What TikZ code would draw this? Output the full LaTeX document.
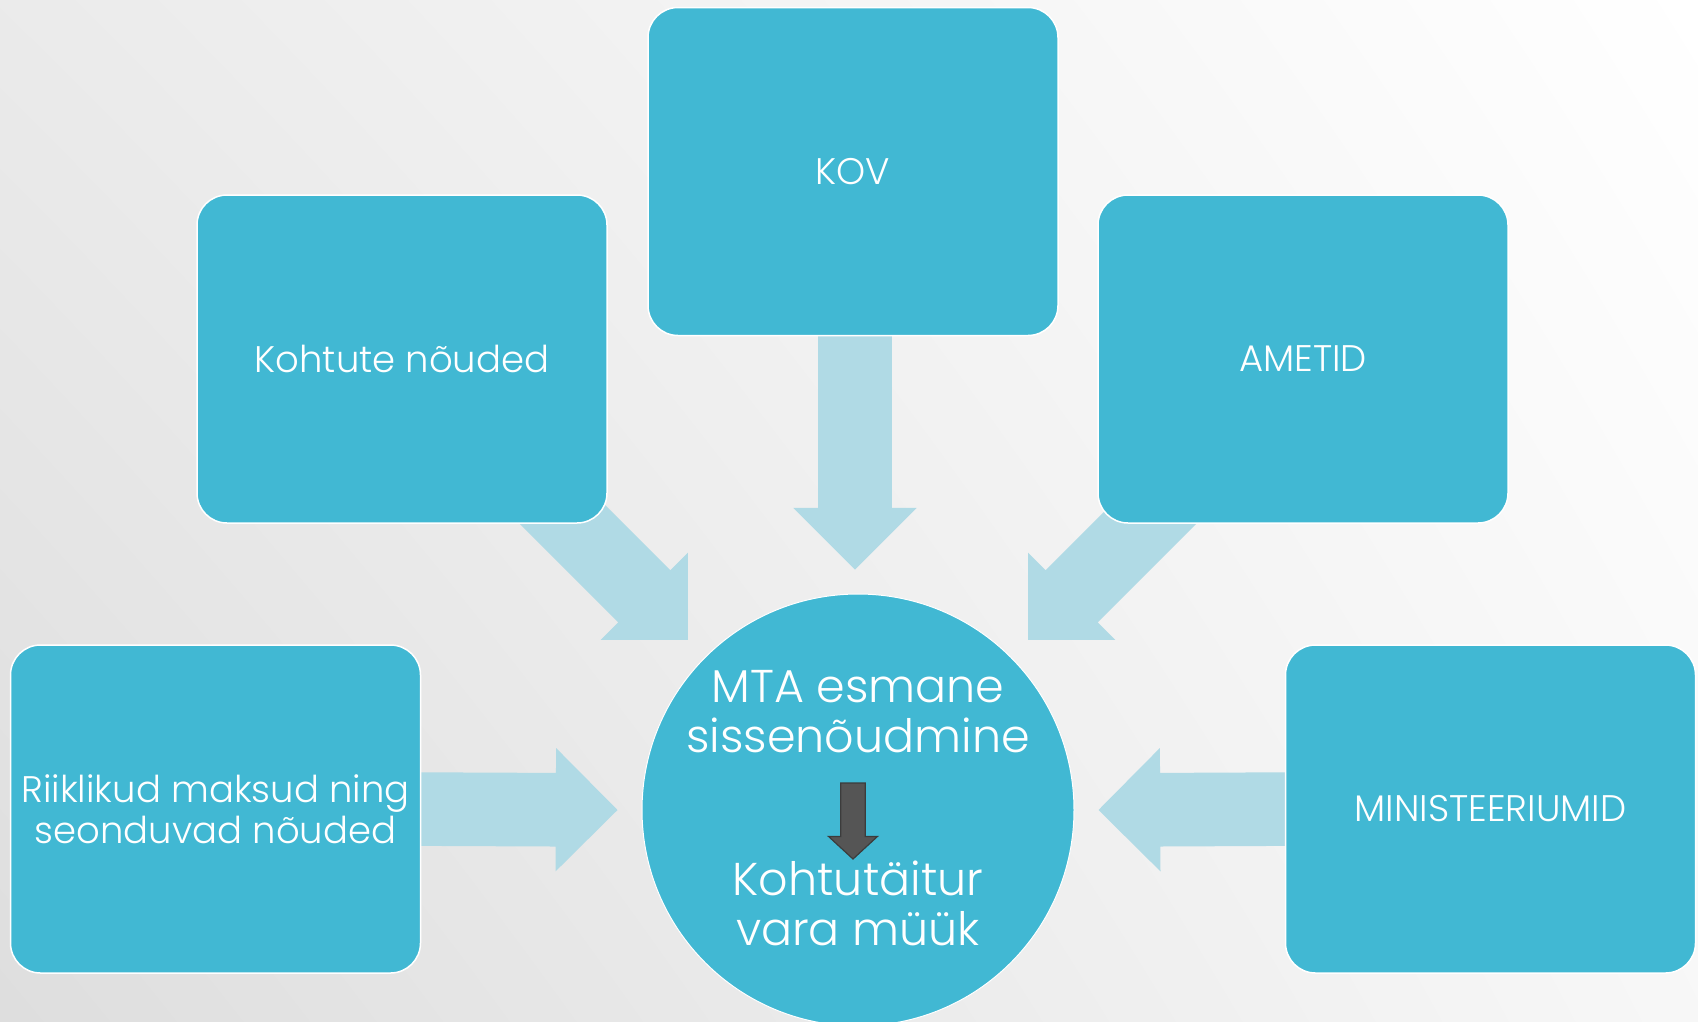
\documentclass[tikz,border=0pt]{standalone}
\usepackage{fontspec}
\setmainfont{Poppins}[UprightFont=* Light]
\usetikzlibrary{calc,backgrounds,shadings}
\definecolor{boxblue}{HTML}{41B8D3}
\definecolor{arrowblue}{HTML}{B0DAE5}
\definecolor{darkfill}{HTML}{555555}
\definecolor{darkedge}{HTML}{3C3C3C}
\tikzset{
	box/.style={draw=white, line width=1.5pt, fill=boxblue, rounded corners=30pt, minimum width=410pt, minimum height=328pt, text=white, align=center, font=\fontsize{37}{41}\selectfont},
	hub/.style={circle, draw=white, line width=1pt, fill=boxblue, minimum size=432pt, inner sep=0pt},
	hubtext/.style={text=white, align=center, font=\fontsize{46}{50}\selectfont},
	lightarrow/.style={fill=arrowblue},
	darkarrow/.style={fill=darkfill, draw=darkedge, line width=1.2pt},
}
% #1 style, #2 tail, #3 tip, #4 shaft half width, #5 head half width, #6 head length
\newcommand{\blockarrow}[6]{
	\coordinate (ahead) at ($(#3)!#6!(#2)$);
	\fill[#1] ($(#2)!#4!90:(#3)$) -- ($(ahead)!#4!-90:(#2)$) -- ($(ahead)!#5!-90:(#2)$) -- (#3)
		-- ($(ahead)!#5!90:(#2)$) -- ($(ahead)!#4!90:(#2)$) -- ($(#2)!#4!-90:(#3)$) -- cycle;
}
\begin{document}
\begin{tikzpicture}[x=1pt,y=-1pt]
	\useasboundingbox (0,0) rectangle (1698,1021);
	\clip (0,0) rectangle (1698,1021);
	\node[box] (kov) at (853,171.5) {KOV};
	\node[box] (kohtute) at (402,359) {Kohtute nõuded};
	\node[box] (ametid) at (1303,359) {AMETID};
	\node[box] (riiklikud) at (215.5,809) {Riiklikud maksud ning\\seonduvad nõuded};
	\node[box] (minist) at (1490.5,809) {MINISTEERIUMID};
	\node[hub] (mta) at (858,810) {};
	\node[hubtext] (mtatop) at ($(mta)+(0,-98)$) {MTA esmane\\sissenõudmine};
	\node[hubtext] (mtabottom) at ($(mta)+(0,93)$) {Kohtutäitur\\vara müük};
	\coordinate (steptail) at ($(mta)+(-5,-27)$);
	\coordinate (steptip) at ($(mta)+(-5,49)$);
	\blockarrow{darkarrow}{steptail}{steptip}{12.2pt}{24.5pt}{22.6pt}
	\begin{scope}[on background layer]
		\shade[upper left=black!8, upper right=white, lower left=black!13, lower right=black!3] (0,0) rectangle (1698,1021);
		\coordinate (kovtail) at ($(kov.south)+(2,-5)$);
		\coordinate (kovtip) at ($(mta.north)+(-3,-24)$);
		\coordinate (kohtutetail) at ($(kohtute.south east)+(-72.6,-36.6)$);
		\coordinate (kohtutetip) at ($(mta.north west)+(-17,-17)$);
		\coordinate (ametidtail) at ($(ametid.south west)+(83.6,-36.6)$);
		\coordinate (ametidtip) at ($(mta.north east)+(17,-17)$);
		\coordinate (riiklikudtail) at ($(riiklikud.east)+(-20,0)$);
		\coordinate (riiklikudtip) at ($(mta.west)+(-24,0)$);
		\coordinate (ministtail) at ($(minist.west)+(20,0)$);
		\coordinate (ministtip) at ($(mta.east)+(24,0)$);
		\blockarrow{lightarrow}{kovtail}{kovtip}{36.8pt}{61.7pt}{61.7pt}
		\blockarrow{lightarrow}{kohtutetail}{kohtutetip}{36.8pt}{61.7pt}{61.7pt}
		\blockarrow{lightarrow}{ametidtail}{ametidtip}{36.8pt}{61.7pt}{61.7pt}
		\blockarrow{lightarrow}{riiklikudtail}{riiklikudtip}{36.8pt}{61.7pt}{61.7pt}
		\blockarrow{lightarrow}{ministtail}{ministtip}{36.8pt}{61.7pt}{61.7pt}
	\end{scope}
\end{tikzpicture}
\end{document}
